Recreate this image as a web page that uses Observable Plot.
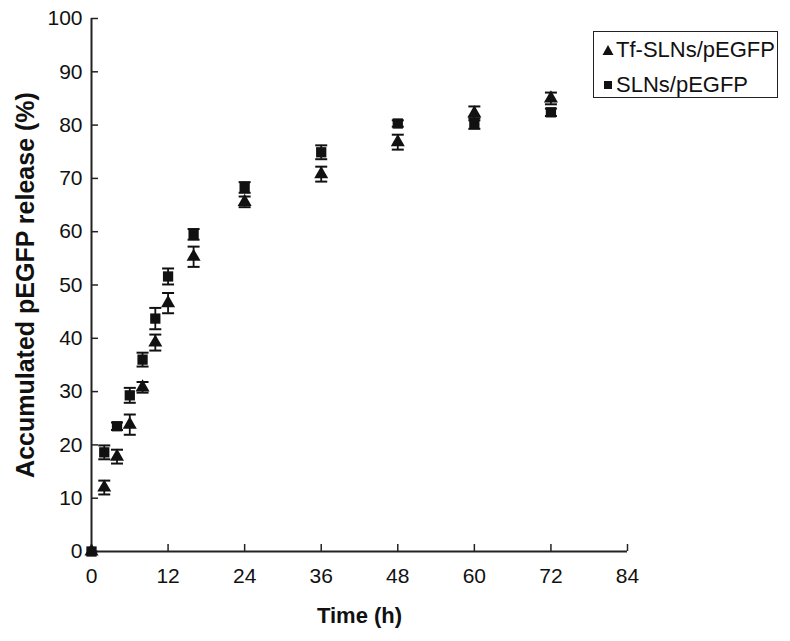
<!DOCTYPE html>
<html>
<head>
<meta charset="utf-8">
<script src="https://cdn.jsdelivr.net/npm/d3@7"></script>
<script src="https://cdn.jsdelivr.net/npm/@observablehq/plot@0.6"></script>
<style>
  body { margin: 0; background: #fff; font-family: "Liberation Sans", Arial, sans-serif; }
  #wrap { position: relative; width: 790px; height: 641px; }
  #legend { position: absolute; left: 593px; top: 31px; width: 183px; height: 65px;
            border: 1.6px solid #222; background: #fff; color: #111; font-size: 22px; }
  #legend .row { position: absolute; left: 8px; display: flex; align-items: center; white-space: nowrap; }
  #legend svg { display: block; margin-right: 2px; }
</style>
</head>
<body>
<div id="wrap">
  <div id="legend">
    <div class="row" style="top:5px"><svg width="12" height="12"><path d="M6,1L11.5,11H0.5Z" fill="#111"/></svg>Tf-SLNs/pEGFP</div>
    <div class="row" style="top:40px"><svg width="12" height="12"><rect x="2" y="2" width="8" height="8" fill="#111"/></svg>SLNs/pEGFP</div>
  </div>
</div>
<script>
const time = [0, 2, 4, 6, 8, 10, 12, 16, 24, 36, 48, 60, 72];
const tfRelease = [0, 12.0, 17.8, 23.8, 30.8, 39.2, 46.6, 55.3, 65.6, 70.8, 76.8, 82.2, 85.0];
const tfError = [0, 1.3, 1.3, 1.9, 1.0, 1.5, 1.9, 1.9, 1.0, 1.4, 1.4, 1.3, 1.1];
const slnRelease = [0, 18.6, 23.5, 29.3, 36.0, 43.7, 51.6, 59.5, 68.3, 74.9, 80.3, 80.3, 82.4];
const slnError = [0, 1.3, 0.7, 1.4, 1.3, 2.0, 1.5, 1.0, 1.0, 1.3, 0.6, 1.0, 0.7];
const xTicks = [0, 12, 24, 36, 48, 60, 72, 84];
const yTicks = [0, 10, 20, 30, 40, 50, 60, 70, 80, 90, 100];
const xTitle = "Time (h)";
const yTitle = "Accumulated pEGFP release (%)";

const tf = time.map((t, i) => ({t, y: tfRelease[i], e: tfError[i]}));
const sln = time.map((t, i) => ({t, y: slnRelease[i], e: slnError[i]}));

const cap = { draw(ctx) { ctx.moveTo(-6, 0); ctx.lineTo(6, 0); } };
const ink = "#111";

function errorMarks(rows) {
  const r = rows.filter(d => d.e > 0);
  return [
    Plot.ruleX(r, {x: "t", y1: d => d.y - d.e, y2: d => d.y + d.e, stroke: ink, strokeWidth: 1.8}),
    Plot.dot(r, {x: "t", y: d => d.y + d.e, symbol: cap, stroke: ink, strokeWidth: 2, fill: "none"}),
    Plot.dot(r, {x: "t", y: d => d.y - d.e, symbol: cap, stroke: ink, strokeWidth: 2, fill: "none"})
  ];
}

const chart = Plot.plot({
  width: 790,
  height: 641,
  marginLeft: 91,
  marginRight: 163,
  marginTop: 18,
  marginBottom: 90,
  style: {fontFamily: "'Liberation Sans', Arial, sans-serif", color: "#111", background: "#fff"},
  x: {domain: [0, 84]},
  y: {domain: [0, 100]},
  marks: [
    Plot.axisX({ticks: xTicks, tickSize: -7, tickPadding: 24, fontSize: 21, label: null, stroke: "#222", strokeWidth: 1.5}),
    Plot.axisY({ticks: yTicks, tickSize: -7, tickPadding: 16, fontSize: 21, label: null, stroke: "#222", strokeWidth: 1.5}),
    Plot.ruleY([0], {stroke: "#222", strokeWidth: 2}),
    Plot.ruleX([0], {stroke: "#222", strokeWidth: 2}),
    ...errorMarks(tf),
    ...errorMarks(sln),
    Plot.dot(tf, {x: "t", y: "y", symbol: "triangle", r: 5.2, fill: ink, stroke: "none"}),
    Plot.dot(sln, {x: "t", y: "y", symbol: "square", r: 5.8, fill: ink, stroke: "none"}),
    Plot.text([yTitle], {text: d => d, frameAnchor: "left", dx: -66, rotate: -90, textAnchor: "middle", lineAnchor: "middle", fontSize: 25, fontWeight: "bold", fill: ink}),
    Plot.text([xTitle], {text: d => d, frameAnchor: "bottom", dy: 64, textAnchor: "middle", lineAnchor: "middle", fontSize: 22, fontWeight: "bold", fill: ink})
  ]
});
document.getElementById("wrap").prepend(chart);
</script>
</body>
</html>
